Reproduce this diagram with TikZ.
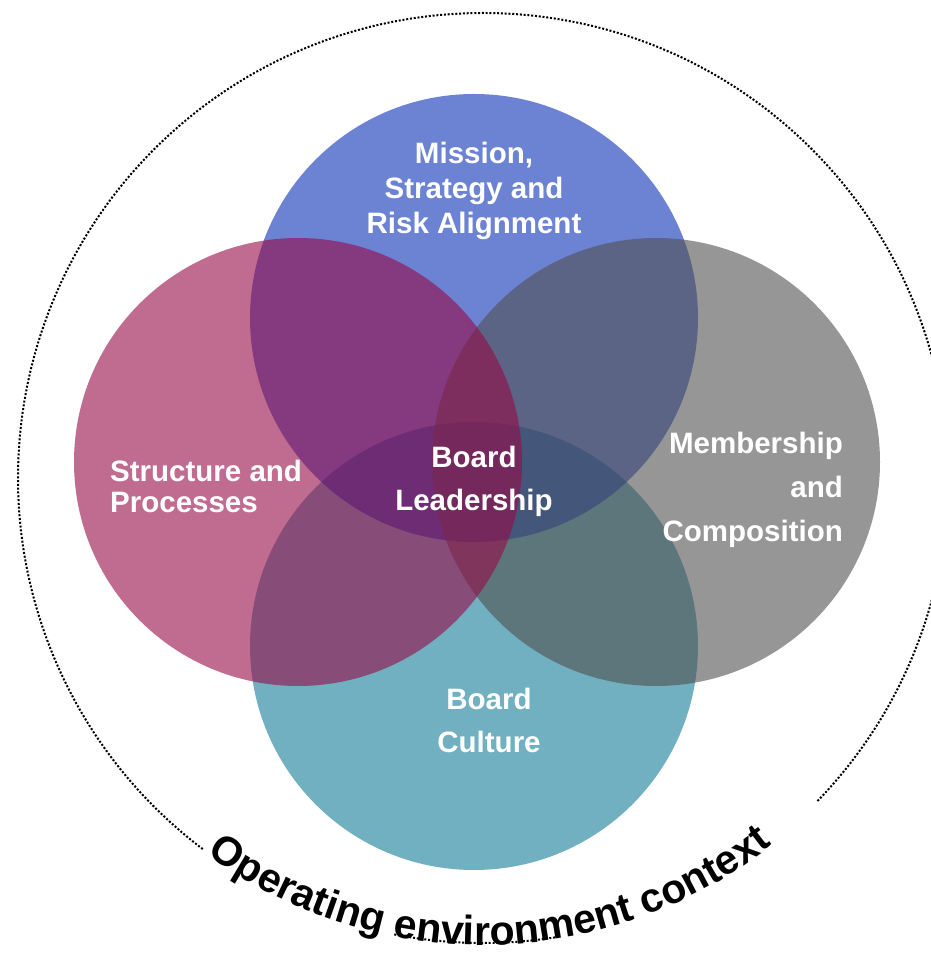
\documentclass[tikz,border=0pt]{standalone}
\usepackage{fontspec}
\setmainfont{Liberation Sans}
\usetikzlibrary{positioning,decorations.text}

\definecolor{missionblue}{RGB}{10,47,180}
\definecolor{structpink}{RGB}{150,10,72}
\definecolor{membgray}{RGB}{80,80,80}
\definecolor{cultureteal}{RGB}{17,123,150}

\begin{document}
\begin{tikzpicture}[x=1pt,y=1pt,
    venn/.style={fill opacity=0.6},
    dots/.style={line width=2pt,dash pattern=on 2pt off 1.8pt},
    lbl/.style={text=white,inner sep=0pt}]
    \useasboundingbox (0,0) rectangle (931,953);
    \coordinate (ctx) at (483,475);
    \coordinate (culture) at (474,307);
    \coordinate (mission) at (474,635);
    \coordinate (membership) at (656,491);
    \coordinate (structure) at (298,491);
    % outer context ring
    \draw[dots] ([shift={(-44:465)}]ctx) arc[start angle=-44,end angle=233,radius=465];
    \draw[dots] ([shift={(259:465)}]ctx) arc[start angle=259,end angle=279,radius=465];
    % the four circles
    \fill[cultureteal,venn] (culture) circle[radius=224];
    \fill[missionblue,venn] (mission) circle[radius=224];
    \fill[membgray,venn] (membership) circle[radius=224];
    \fill[structpink,venn] (structure) circle[radius=224];
    % labels
    \node[lbl,align=center,font=\bfseries\fontsize{29.5}{35}\selectfont] (missionlbl) at (474,762) {Mission,\\Strategy and\\Risk Alignment};
    \node[lbl,align=left,anchor=west,font=\bfseries\fontsize{29.5}{31}\selectfont] (structlbl) at (110,466.5) {Structure and\\Processes};
    \node[lbl,align=center,font=\bfseries\fontsize{29.5}{43}\selectfont] (leaderlbl) at (474,471.5) {Board\\Leadership};
    \node[lbl,align=right,anchor=east,font=\bfseries\fontsize{29.5}{44}\selectfont] (memblbl) at (843,463) {Membership\\and\\Composition};
    \node[lbl,align=center,font=\bfseries\fontsize{29.5}{43}\selectfont] (culturelbl) at (489,232.5) {Board\\Culture};
    \path[decorate,decoration={text along path,text align=center,
        text={|\bfseries\fontsize{41}{41}\selectfont|Operating environment context}}]
        ([shift={(200:467)}]ctx) arc[start angle=200,end angle=342,radius=467];
\end{tikzpicture}
\end{document}
